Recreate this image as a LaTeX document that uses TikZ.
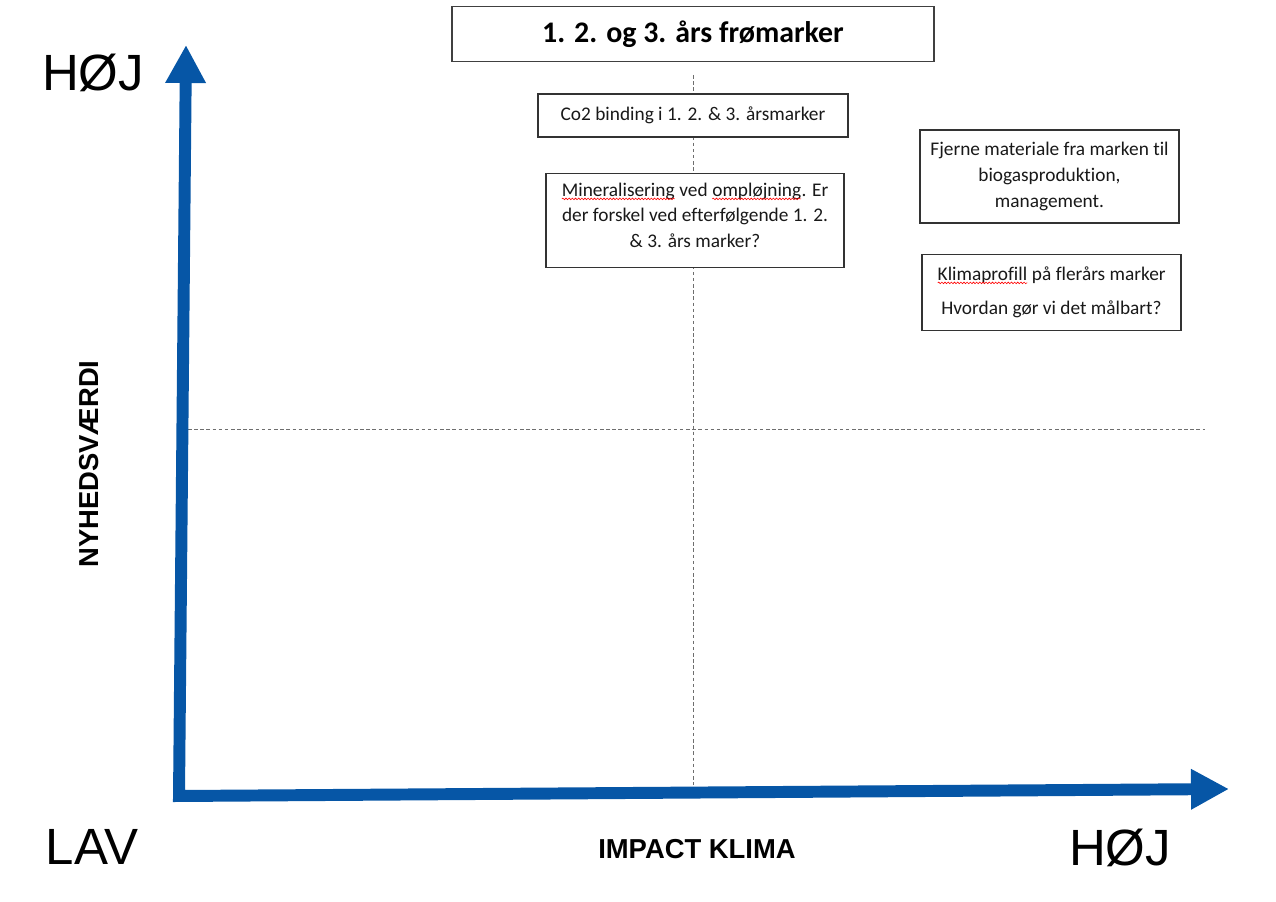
\documentclass[tikz,border=0pt]{standalone}
\usepackage{fontspec}
\setmainfont{Carlito}[Ligatures=NoCommon]
\newfontfamily\arialfont{Liberation Sans}
\usetikzlibrary{positioning, arrows.meta, decorations.pathmorphing}
\definecolor{axisblue}{RGB}{6,86,166}
\definecolor{gridgray}{RGB}{110,110,110}
\newcommand\spellwave[1]{\tikz[baseline=(w.base)]{%
  \node [draw=none, fill=none, rectangle, inner sep=0pt, outer sep=0pt, anchor=center,
         minimum width=0pt, minimum height=0pt] (w) {#1};
  \draw [red, line width=0.35pt, decorate, decoration={snake, amplitude=0.45pt, segment length=1.8pt}]
        ([yshift=-1.6pt]w.base west) -- ([yshift=-1.6pt]w.base east);}}
\tikzset{
  titlebox/.style = {rectangle, draw=black!75, fill=white, line width=0.8pt,
                     minimum width=9.64cm, minimum height=1.1cm,
                     font=\fontsize{17}{20}\selectfont\bfseries},
  notebox/.style = {rectangle, draw=black!80, fill=white, line width=0.7pt,
                    align=center, inner sep=0pt, text=black!90,
                    font=\fontsize{11}{14.7}\selectfont},
  levellabel/.style = {font=\arialfont\fontsize{29}{32}\selectfont, anchor=base, inner sep=0pt},
  axistitle/.style = {font=\arialfont\bfseries\fontsize{15.6}{18}\selectfont, anchor=base, inner sep=0pt},
  quadline/.style = {gridgray, line width=0.5pt, dash pattern=on 2pt off 1.5pt},
  axisline/.style = {axisblue, line width=6.8pt,
                     {Triangle[length=0.76cm, width=0.76cm]}-{Triangle[length=0.76cm, width=0.76cm]}}
}

\begin{document}
\begin{tikzpicture}[x=0.02cm, y=-0.02cm]
  \useasboundingbox (0,0) rectangle (1276,902);

  % quadrant lines
  \coordinate (vtop) at (693,75);
  \coordinate (vbot) at (693,785);
  \coordinate (hleft) at (188,429);
  \coordinate (hright) at (1205,429);
  \draw [quadline] (vtop) -- (vbot);
  \draw [quadline] (hleft) -- (hright);

  % axes
  \coordinate (ytip) at (186,45);
  \coordinate (origin) at (179,796);
  \coordinate (xtip) at (1229,789);
  \draw [axisline] (ytip) -- (origin) -- (xtip);

  % boxes
  \node [titlebox] (title) at (693,34) {1. 2. og 3. års frømarker};
  \node [notebox, minimum width=6.2cm, minimum height=0.86cm] (co2) at (693,115.5)
        {Co2 binding i 1. 2. \& 3. årsmarker};
  \node [notebox, minimum width=5.96cm, minimum height=1.88cm, below=0.7cm of co2, xshift=0.04cm] (mineral)
        {\spellwave{Mineralisering} ved \spellwave{ompløjning}. Er\\
         der forskel ved efterfølgende 1. 2.\\ \& 3. års marker?\\[-9pt]};
  \node [notebox, minimum width=5.18cm, minimum height=1.86cm] (fjerne) at (1049.5,176.5)
        {Fjerne materiale fra marken til\\ biogasproduktion,\\ management.};
  \node [notebox, minimum width=5.18cm, minimum height=1.52cm, below=0.6cm of fjerne, xshift=0.04cm] (klima)
        {\spellwave{Klimaprofill} på flerårs marker\\[5pt] Hvordan gør vi det målbart?};

  % axis labels
  \node [levellabel] (yhigh) at (93,91) {HØJ};
  \node [levellabel] (low) at (92,864) {LAV};
  \node [levellabel] (xhigh) at (1120,865) {HØJ};
  \node [axistitle] (xname) at (697,858) {IMPACT KLIMA};
  \node [axistitle, rotate=90] (yname) at (98,464) {NYHEDSVÆRDI};
\end{tikzpicture}
\end{document}
